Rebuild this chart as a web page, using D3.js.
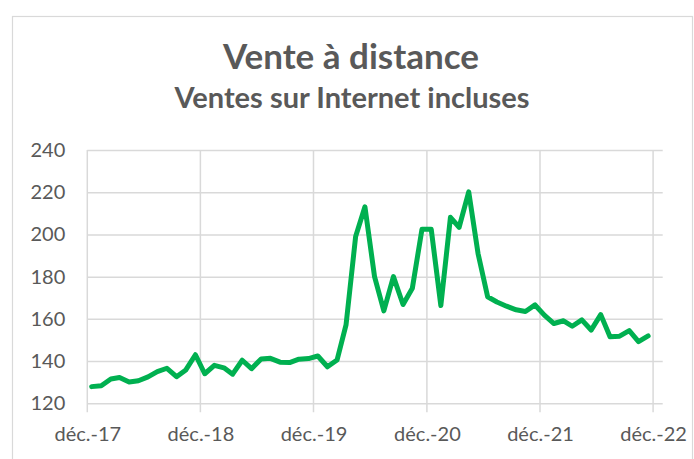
<!DOCTYPE html>
<html><head><meta charset="utf-8">
<script src="https://cdn.jsdelivr.net/npm/d3@7"></script>
<style>body{margin:0;background:#fff}svg{display:block}text{font-family:Lato,"Open Sans",sans-serif}</style>
</head><body><svg id="c" width="694" height="459"></svg>
<script>
const months = [
 "2017-12",
 "2018-01","2018-02","2018-03","2018-04","2018-05","2018-06","2018-07","2018-08","2018-09","2018-10","2018-11","2018-12",
 "2019-01","2019-02","2019-03","2019-04","2019-05","2019-06","2019-07","2019-08","2019-09","2019-10","2019-11","2019-12",
 "2020-01","2020-02","2020-03","2020-04","2020-05","2020-06","2020-07","2020-08","2020-09","2020-10","2020-11","2020-12",
 "2021-01","2021-02","2021-03","2021-04","2021-05","2021-06","2021-07","2021-08","2021-09","2021-10","2021-11","2021-12",
 "2022-01","2022-02","2022-03","2022-04","2022-05","2022-06","2022-07","2022-08","2022-09","2022-10","2022-11"
];
const values = [
 127.9,
 128.3,131.5,132.2,130.1,130.7,132.5,135.0,136.6,132.6,135.8,143.0,134.0,
 138.0,136.8,133.8,140.4,136.4,141.0,141.3,139.5,139.3,140.9,141.2,142.4,
 137.3,140.5,157.1,199.0,213.1,180.0,163.8,180.0,166.8,174.5,202.4,202.4,
 166.3,208.1,203.4,220.2,191.0,170.5,168.0,166.0,164.3,163.5,166.6,161.8,
 157.8,159.1,156.5,159.5,154.7,162.0,151.5,151.8,154.4,149.2,151.9
];
const yTicks = [120,140,160,180,200,220,240];
const xTickMonths = ["2017-12","2018-12","2019-12","2020-12","2021-12","2022-12"];
const xTickLabels = ["déc.-17","déc.-18","déc.-19","déc.-20","déc.-21","déc.-22"];
const title = "Vente à distance";
const subtitle = "Ventes sur Internet incluses";

const svg = d3.select("#c");
const grey = "#D9D9D9", textCol = "#595959";
const parseDay = d3.timeParse("%Y-%m-%d");
const pointDate = m => parseDay(m + "-15");
const tickDate = m => parseDay(m + "-01");

const x = d3.scaleTime().domain([parseDay("2017-12-01"), parseDay("2023-01-01")]).range([87.3, 662.7]);
const y = d3.scaleLinear().domain([120, 240]).range([403.3, 150]);

// chart border
svg.append("rect").attr("x", 12.5).attr("y", 16.5).attr("width", 680).attr("height", 470)
  .attr("fill", "none").attr("stroke", grey).attr("stroke-width", 1.2);

// horizontal gridlines + y labels
const yAxis = d3.axisLeft(y).tickValues(yTicks).tickSize(-(x.range()[1] - x.range()[0])).tickPadding(22);
const gy = svg.append("g").attr("transform", `translate(${x.range()[0]},0)`).call(yAxis);
gy.select(".domain").remove();
gy.selectAll(".tick line").attr("stroke", grey).attr("stroke-width", 1.5);
gy.selectAll(".tick text").attr("fill", textCol).style("font-size", "20px");

// vertical gridlines (extend below axis as tick marks)
svg.append("g").selectAll("line").data(xTickMonths).join("line")
  .attr("x1", d => x(tickDate(d))).attr("x2", d => x(tickDate(d)))
  .attr("y1", y(240)).attr("y2", y(120) + 9)
  .attr("stroke", grey).attr("stroke-width", 1.5);

// x labels
const xAxis = d3.axisBottom(x).tickValues(xTickMonths.map(tickDate))
  .tickFormat((d, i) => xTickLabels[i]).tickSize(0).tickPadding(24);
const gx = svg.append("g").attr("transform", `translate(0,${y(120)})`).call(xAxis);
gx.select(".domain").remove();
gx.selectAll(".tick text").attr("fill", textCol).style("font-size", "20px");

// line
const line = d3.line().x((d, i) => x(pointDate(months[i]))).y(d => y(d));
svg.append("path").datum(values).attr("d", line)
  .attr("fill", "none").attr("stroke", "#00B050").attr("stroke-width", 5)
  .attr("stroke-linejoin", "round").attr("stroke-linecap", "round");

// titles
svg.append("text").attr("x", 351).attr("y", 69).attr("text-anchor", "middle")
  .attr("fill", textCol).style("font-size", "35px").style("font-weight", "bold").text(title);
svg.append("text").attr("x", 352).attr("y", 108).attr("text-anchor", "middle")
  .attr("fill", textCol).style("font-size", "29px").style("font-weight", "bold").text(subtitle);
</script></body></html>
